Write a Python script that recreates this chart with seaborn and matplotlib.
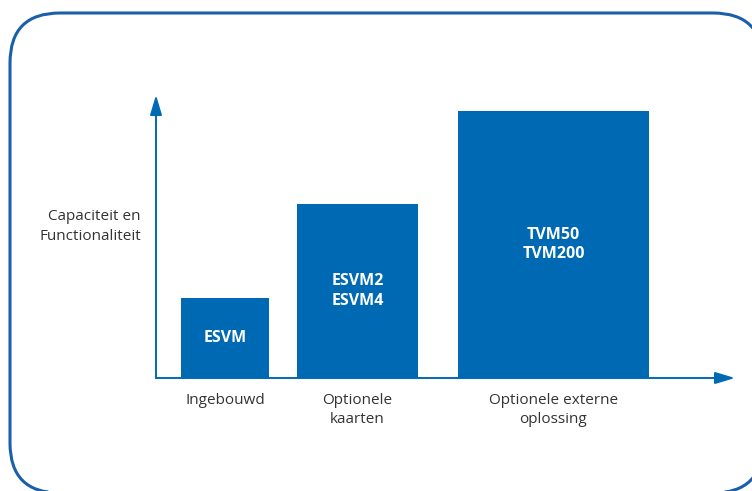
import matplotlib
matplotlib.use("Agg")
import matplotlib.pyplot as plt
from matplotlib.patches import FancyBboxPatch, PathPatch
from matplotlib.path import Path
import seaborn as sns
import pandas as pd

# data
categories = ["Ingebouwd", "Optionele\nkaarten", "Optionele externe\noplossing"]
products = ["ESVM", "ESVM2\nESVM4", "TVM50\nTVM200"]
capacity = [0.80, 1.74, 2.67]

# layout (bar centres / widths on the x axis)
bar_pos = [0.69, 2.015, 3.975]
bar_width = [0.88, 1.21, 1.91]

BLUE = "#0069b4"
FRAME = "#1b5faa"
TXT = "#333333"

sns.set_theme(style="white")
plt.rcParams["font.family"] = ["Open Sans", "DejaVu Sans"]

W, H = 752, 491
fig = plt.figure(figsize=(W / 100, H / 100), dpi=100, facecolor="white")

# rounded frame in display pixels; flatten the curves so clipping at the edge is clean
box = FancyBboxPatch((10, -2), 753, 480, boxstyle="round,pad=0,rounding_size=50")
poly = box.get_path().to_polygons(closed_only=False)[0]
frame = PathPatch(Path(poly), fill=False, edgecolor=FRAME, linewidth=2.2, transform=None)
fig.patches.append(frame)

ax_l, ax_r, ax_b, ax_t = 156, 735, 378, 95
ax = fig.add_axes([ax_l / W, (H - ax_b) / H, (ax_r - ax_l) / W, (ax_b - ax_t) / H])
ax.patch.set_alpha(0)

df = pd.DataFrame({"pos": bar_pos, "capacity": capacity, "product": products})
sns.barplot(data=df, x="pos", y="capacity", native_scale=True, color=BLUE,
            saturation=1, edgecolor="none", ax=ax, zorder=2)
for patch, c, w in zip(ax.patches, bar_pos, bar_width):
    patch.set_x(c - w / 2)
    patch.set_width(w)

ax.set_xlim(0, 5.79)
ax.set_ylim(0, 2.83)
for s in ax.spines.values():
    s.set_visible(False)
ax.set_xticks([])
ax.set_yticks([])
ax.set_xlabel("")
ax.set_ylabel("")

# axis arrows
arrow = dict(arrowstyle="-|>,head_length=12,head_width=3.6", mutation_scale=1,
             color=BLUE, linewidth=1.4, shrinkA=0, shrinkB=0)
ax.annotate("", xy=(1, 0), xytext=(0, 0), xycoords="axes fraction", arrowprops=arrow, zorder=1)
ax.annotate("", xy=(0, 1), xytext=(0, 0), xycoords="axes fraction", arrowprops=arrow, zorder=1)

# labels inside bars
for c, v, p in zip(bar_pos, capacity, products):
    ax.text(c, v / 2, p, ha="center", va="center", color="white", fontsize=11.5,
            fontweight="bold", linespacing=1.32)

# category labels
for c, lab in zip(bar_pos, categories):
    ax.annotate(lab, xy=(c, 0), xytext=(0, -11), textcoords="offset points",
                ha="center", va="top", color=TXT, fontsize=11, linespacing=1.3)

ax.text(-0.026, 0.535, "Capaciteit en\nFunctionaliteit", transform=ax.transAxes,
        ha="right", va="center", color=TXT, fontsize=11, linespacing=1.4)

fig.savefig("out.png", dpi=100, facecolor="white")
